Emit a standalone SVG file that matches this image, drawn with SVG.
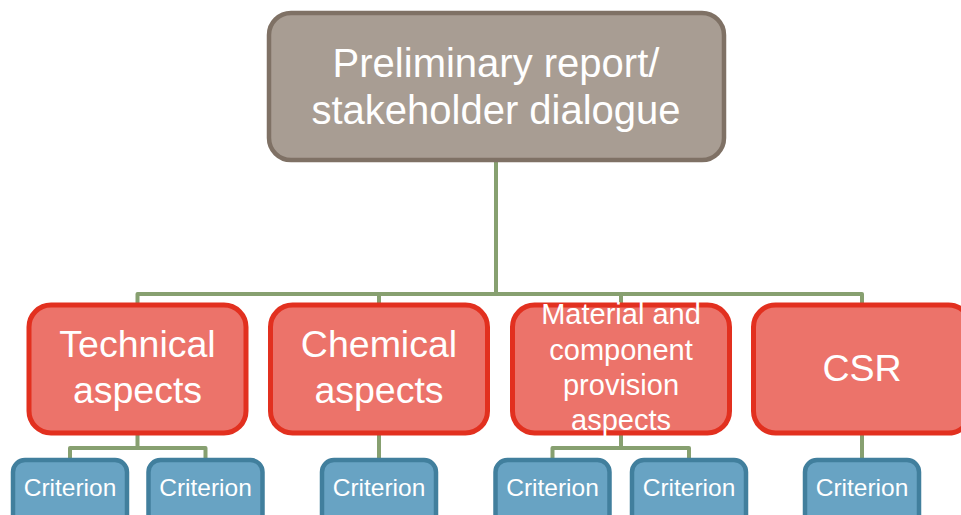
<svg xmlns="http://www.w3.org/2000/svg" width="961" height="515" viewBox="0 0 961 515">
<style>
.top{fill:#a89d93;stroke:#7f7165;stroke-width:4.5}
.red{fill:#ec736a;stroke:#e2301f;stroke-width:5}
.blue{fill:#68a3c3;stroke:#417f9d;stroke-width:4.5}
.con{fill:none;stroke:#87a070;stroke-width:4;stroke-linejoin:round}
text{font-family:"Liberation Sans",Arial,sans-serif;fill:#ffffff;text-anchor:middle}
.t1{font-size:40px}
.t2{font-size:37.5px}
.t3{font-size:29px}
.t4{font-size:24.5px}
</style>
<rect width="961" height="515" fill="#ffffff"/>
<g id="connectors">
<path class="con" d="M496 160 V294 M137.5 303 V294 H862 V303 M379 294 V303 M621 294 V303"/>
<path class="con" d="M137.5 434 V448 M70 458 V448 H205.5 V458"/>
<path class="con" d="M379 434 V458"/>
<path class="con" d="M621 434 V448 M552.5 458 V448 H689 V458"/>
<path class="con" d="M862 434 V458"/>
</g>
<g id="root">
<rect class="top" x="269" y="13" width="455" height="147" rx="22"/>
<text class="t1" x="496" y="77">Preliminary report/</text>
<text class="t1" x="496" y="124">stakeholder dialogue</text>
</g>
<g id="technical">
<rect class="red" x="29" y="305" width="217" height="128" rx="22"/>
<text class="t2" x="137.5" y="357">Technical</text>
<text class="t2" x="137.5" y="403">aspects</text>
</g>
<g id="chemical">
<rect class="red" x="270.5" y="305" width="217" height="128" rx="22"/>
<text class="t2" x="379" y="357">Chemical</text>
<text class="t2" x="379" y="403">aspects</text>
</g>
<g id="material">
<rect class="red" x="512.5" y="305" width="217" height="128" rx="22"/>
<text class="t3" x="621" y="324">Material and</text>
<text class="t3" x="621" y="360">component</text>
<text class="t3" x="621" y="395">provision</text>
<text class="t3" x="621" y="430">aspects</text>
</g>
<g id="csr">
<rect class="red" x="753.5" y="305" width="217" height="128" rx="22"/>
<text class="t2" x="862" y="381">CSR</text>
</g>
<g id="c1"><rect class="blue" x="13" y="460" width="114" height="70" rx="12"/><text class="t4" x="70" y="496">Criterion</text></g>
<g id="c2"><rect class="blue" x="148.5" y="460" width="114" height="70" rx="12"/><text class="t4" x="205.5" y="496">Criterion</text></g>
<g id="c3"><rect class="blue" x="322" y="460" width="114" height="70" rx="12"/><text class="t4" x="379" y="496">Criterion</text></g>
<g id="c4"><rect class="blue" x="495.5" y="460" width="114" height="70" rx="12"/><text class="t4" x="552.5" y="496">Criterion</text></g>
<g id="c5"><rect class="blue" x="632" y="460" width="114" height="70" rx="12"/><text class="t4" x="689" y="496">Criterion</text></g>
<g id="c6"><rect class="blue" x="805" y="460" width="114" height="70" rx="12"/><text class="t4" x="862" y="496">Criterion</text></g>
</svg>
